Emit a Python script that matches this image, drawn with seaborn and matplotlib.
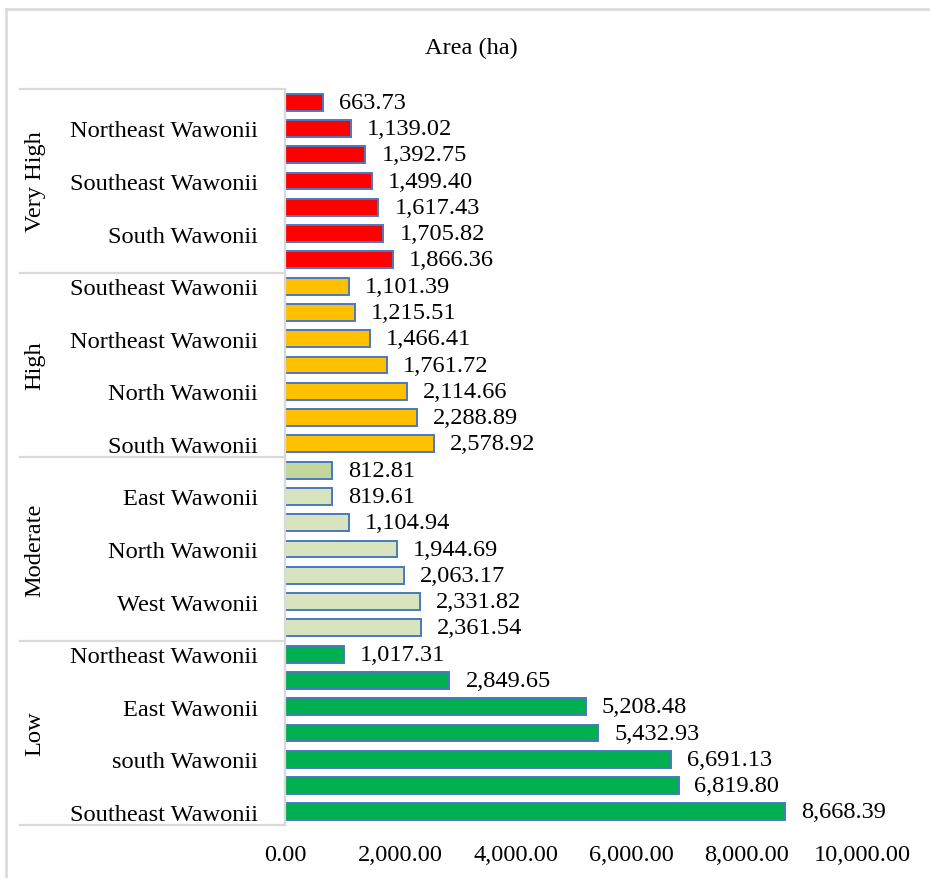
import matplotlib
matplotlib.use("Agg")
import matplotlib.pyplot as plt
from matplotlib.lines import Line2D
from matplotlib.transforms import blended_transform_factory
import seaborn as sns
import pandas as pd

# Susceptibility classes (top to bottom) and bar values per class
groups = ["Very High", "High", "Moderate", "Low"]

very_high_labels = ["", "Northeast Wawonii", "", "Southeast Wawonii", "", "South Wawonii", ""]
very_high_values = [663.73, 1139.02, 1392.75, 1499.40, 1617.43, 1705.82, 1866.36]

high_labels = ["Southeast Wawonii", "", "Northeast Wawonii", "", "North Wawonii", "", "South Wawonii"]
high_values = [1101.39, 1215.51, 1466.41, 1761.72, 2114.66, 2288.89, 2578.92]

moderate_labels = ["", "East Wawonii", "", "North Wawonii", "", "West Wawonii", ""]
moderate_values = [812.81, 819.61, 1104.94, 1944.69, 2063.17, 2331.82, 2361.54]

low_labels = ["Northeast Wawonii", "", "East Wawonii", "", "south Wawonii", "", "Southeast Wawonii"]
low_values = [1017.31, 2849.65, 5208.48, 5432.93, 6691.13, 6819.80, 8668.39]

x_ticks = [0, 2000, 4000, 6000, 8000, 10000]

sub_labels = very_high_labels + high_labels + moderate_labels + low_labels
values = very_high_values + high_values + moderate_values + low_values
group_col = sum([[g] * 7 for g in groups], [])

fill = {"Very High": "#FF0000", "High": "#FFC000", "Moderate": "#D7E4BD", "Low": "#00B050"}
colors = [fill[g] for g in group_col]
colors[14] = "#C3D69B"

df = pd.DataFrame({
    "bar": [f"b{i:02d}" for i in range(len(values))],
    "area": values,
    "group": group_col,
})

plt.rcParams["font.family"] = ["Liberation Serif", "DejaVu Serif"]
plt.rcParams["font.size"] = 17.6

W, H = 930, 879
fig = plt.figure(figsize=(W / 100, H / 100), dpi=100)
ax = fig.add_axes([285 / W, 1 - 826 / H, (862 - 285) / W, (826 - 90) / H])

sns.barplot(data=df, x="area", y="bar", hue="bar", palette=colors, legend=False,
            orient="h", width=0.64, saturation=1, edgecolor="#4A78C2",
            linewidth=1.4, ax=ax)

ax.set_xlim(0, 10000)
ax.set_ylim(len(values) - 0.5, -0.5)
ax.set_xticks(x_ticks, labels=[f"{t:,.2f}" for t in x_ticks])
ax.set_yticks(range(len(values)), labels=sub_labels)
ax.tick_params(axis="both", length=0)
ax.tick_params(axis="y", pad=19.5)
ax.tick_params(axis="x", pad=14)
ax.set_xlabel("")
ax.set_ylabel("")
ax.grid(False)
for side in ["top", "right", "bottom"]:
    ax.spines[side].set_visible(False)
ax.spines["left"].set_color("#D9D9D9")
ax.spines["left"].set_linewidth(1.6)

# value labels at the end of each bar
for i, v in enumerate(values):
    ax.annotate(f"{v:,.2f}", xy=(v, i), xytext=(11.5, 0), textcoords="offset points",
                ha="left", va="center")

# group labels and separator lines of the two-level category axis
trans = blended_transform_factory(fig.transFigure, ax.transData)
for k, g in enumerate(groups):
    ax.text(35 / W, k * 7 + 3, g, transform=trans, rotation=90,
            ha="center", va="center", clip_on=False)
for b in [-0.5, 6.5, 13.5, 20.5, 27.5]:
    ax.add_line(Line2D([20 / W, 283 / W], [b, b], transform=trans,
                       color="#D9D9D9", linewidth=1.6, clip_on=False))

fig.text(471 / W, 1 - 48 / H, "Area (ha)", ha="center", va="center")

# chart frame
fig.add_artist(Line2D([6 / W, 1], [1 - 10 / H, 1 - 10 / H], transform=fig.transFigure,
                      color="#D9D9D9", linewidth=1.8))
fig.add_artist(Line2D([6 / W, 6 / W], [0, 1 - 10 / H], transform=fig.transFigure,
                      color="#D9D9D9", linewidth=1.8))

fig.savefig("out.png", dpi=100)
